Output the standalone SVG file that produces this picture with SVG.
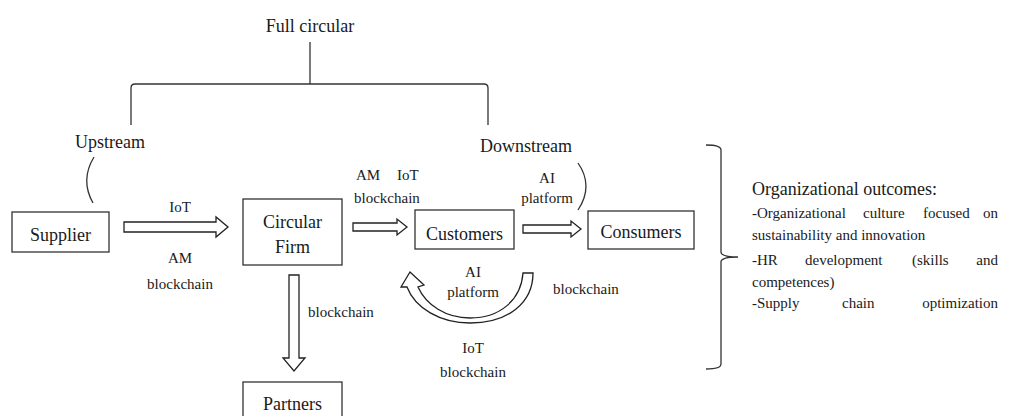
<svg xmlns="http://www.w3.org/2000/svg" width="1012" height="416" viewBox="0 0 1012 416" font-family="'Liberation Serif', 'DejaVu Serif', serif">
<style>
text{font-family:'Liberation Serif','Times New Roman','DejaVu Serif',serif;fill:#1a1a1a}
.b{font-size:18px}
.s{font-size:15px}
.m{text-anchor:middle}
.e{text-anchor:end}
.box{fill:#fff;stroke:#333;stroke-width:1.3}
.ln{fill:none;stroke:#333;stroke-width:1.3}
.ar{fill:#fff;stroke:#222;stroke-width:1.3;stroke-linejoin:miter}
</style>
<rect width="1012" height="416" fill="#fff"/>
<g id="structure">
<text class="b m" x="310" y="32">Full circular</text>
<path class="ln" d="M310,42 L310,84"/>
<path class="ln" d="M131,125 L131,88 Q131,84 135,84 L484,84 Q488,84 488,88 L488,125"/>
<text class="b" x="75" y="148">Upstream</text>
<text class="b" x="480" y="152">Downstream</text>
<path class="ln" d="M94,157 Q80,180 93,203"/>
<path class="ln" d="M578,163 Q594,186 578,210"/>
</g>
<g id="supplier"><rect class="box" x="12" y="212" width="97" height="40"/><text class="b m" x="60.5" y="241">Supplier</text></g>
<g id="circular-firm"><rect class="box" x="243" y="199" width="99" height="66"/><text class="b m" x="292.5" y="228">Circular</text><text class="b m" x="292.5" y="253">Firm</text></g>
<g id="customers"><rect class="box" x="415" y="210" width="99" height="39"/><text class="b m" x="464.5" y="240">Customers</text></g>
<g id="consumers"><rect class="box" x="588" y="211" width="106" height="38"/><text class="b m" x="641" y="238">Consumers</text></g>
<g id="partners"><rect class="box" x="243" y="382" width="99" height="40"/><text class="b m" x="292.5" y="410">Partners</text></g>
<g id="connectors">
<path class="ar" d="M124,222 L216,222 L216,217 L228,227 L216,237 L216,232 L124,232 Z"/>
<path class="ar" d="M353,223 L397,223 L397,219 L407,227 L397,235 L397,231 L353,231 Z"/>
<path class="ar" d="M523,225 L571,225 L571,221 L581,229 L571,237 L571,233 L523,233 Z"/>
<path class="ar" d="M289,275 L299,275 L299,358 L305,358 L294,371 L283,358 L289,358 Z"/>
<path class="ar" d="M533,273 C533,303 508,323 470,323 C440,323 415,308 407,287 L401,287 L410,272 L424,285 L418,287 C426,305 446,318 470,318 C500,318 521,300 523,273 Z"/>
</g>
<g id="labels">
<text class="s m" x="180" y="212">IoT</text>
<text class="s m" x="180" y="263">AM</text>
<text class="s m" x="180" y="289">blockchain</text>
<text class="s" x="356" y="180">AM</text>
<text class="s" x="397" y="180">IoT</text>
<text class="s" x="354" y="203">blockchain</text>
<text class="s m" x="547" y="183">AI</text>
<text class="s m" x="547" y="203">platform</text>
<text class="s" x="308" y="317">blockchain</text>
<text class="s m" x="473" y="277">AI</text>
<text class="s m" x="473" y="297">platform</text>
<text class="s" x="553" y="294">blockchain</text>
<text class="s m" x="473" y="353">IoT</text>
<text class="s m" x="473" y="377">blockchain</text>
</g>
<g id="outcomes">
<path class="ln" d="M706,145 Q721,145 721,150 L721,252 Q721,257 738,257 Q721,257 721,262 L721,364 Q721,369 706,369"/>
<text class="b" x="752" y="195">Organizational outcomes:</text>
<text class="s" x="752" y="218">-Organizational</text>
<text class="s" x="863" y="218">culture</text>
<text class="s" x="923" y="218">focused</text>
<text class="s e" x="998" y="218">on</text>
<text class="s" x="752" y="240">sustainability and innovation</text>
<text class="s" x="752" y="265">-HR</text>
<text class="s" x="805" y="265">development</text>
<text class="s" x="912" y="265">(skills</text>
<text class="s e" x="998" y="265">and</text>
<text class="s" x="752" y="287">competences)</text>
<text class="s" x="752" y="308">-Supply</text>
<text class="s" x="842" y="308">chain</text>
<text class="s e" x="998" y="308">optimization</text>
</g>
</svg>
